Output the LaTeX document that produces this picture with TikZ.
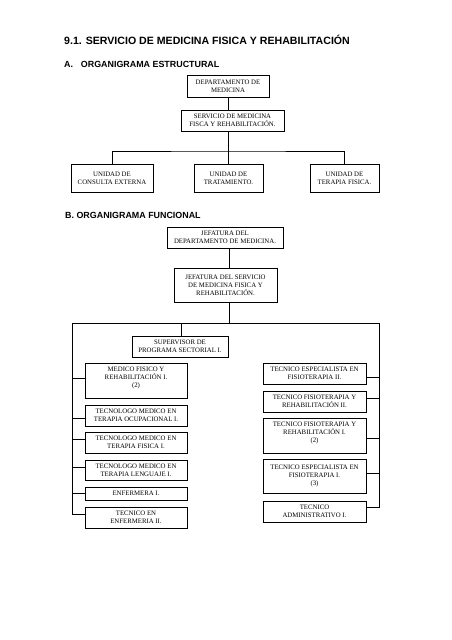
\documentclass[tikz,border=0pt]{standalone}
\usepackage{fontspec}
\setmainfont{Liberation Serif}
\newfontfamily\hfont{Liberation Sans}
\usetikzlibrary{shadows}
\begin{document}
\begin{tikzpicture}[x=1pt,y=-1pt,
  box/.style={draw=black, fill=white, line width=0.7pt, inner sep=0pt, align=center,
    font=\fontsize{6.8}{8}\selectfont,
    drop shadow={shadow xshift=0.9pt, shadow yshift=-0.9pt, fill=black!35, opacity=1}},
  conn/.style={draw=black, line width=0.8pt},
  head/.style={anchor=base west, inner sep=0pt, font=\hfont\bfseries\fontsize{8.9}{10}\selectfont},
  title/.style={anchor=base west, inner sep=0pt, font=\hfont\bfseries\fontsize{10.6}{12}\selectfont}]
\useasboundingbox[fill=white] (0,0) rectangle (452,640);

\node[title] (t) at (64,44) {9.1. SERVICIO DE MEDICINA FISICA Y REHABILITACIÓN};
\node[head] (ha) at (64,67) {A.\hspace{0.6em} ORGANIGRAMA ESTRUCTURAL};
\node[head] (hb) at (65,218) {B. ORGANIGRAMA FUNCIONAL};

% ---- A ----
\node[box, minimum width=82, minimum height=22] (dep) at (228,86) {DEPARTAMENTO DE\\MEDICINA};
\node[box, minimum width=103, minimum height=21] (serv) at (232.5,120.5) {SERVICIO DE MEDICINA\\FISCA Y REHABILITACIÓN.};
\node[box, minimum width=82, minimum height=28] (u1) at (112,178) {UNIDAD DE\\CONSULTA EXTERNA};
\node[box, minimum width=69, minimum height=28] (u2) at (228.5,178) {UNIDAD DE\\TRATAMIENTO.};
\node[box, minimum width=69, minimum height=28] (u3) at (344.5,178) {UNIDAD DE\\TERAPIA FISICA.};
\coordinate (ja) at (228.5,151);
\draw[conn] (dep.south -| ja) -- (serv.north -| ja);
\draw[conn] (serv.south -| ja) -- (ja);
\draw[conn] (u1.north) |- (ja) -| (u3.north);
\draw[conn] (ja) -- (u2.north);

% ---- B ----
\node[box, minimum width=116, minimum height=21] (jd) at (225,237.5) {JEFATURA DEL\\DEPARTAMENTO DE MEDICINA.};
\node[box, minimum width=103, minimum height=34] (js) at (225.5,285) {JEFATURA DEL SERVICIO\\DE MEDICINA FISICA Y\\REHABILITACIÓN.};
\coordinate (jb) at (229,323);
\coordinate (L) at (72,323);
\coordinate (R) at (379,323);
\draw[conn] (jd.south -| jb) -- (js.north -| jb);
\draw[conn] (js.south -| jb) -- (jb);
\draw[conn] (L) -- (R);

\node[box, minimum width=96, minimum height=21] (sup) at (180,346.5) {SUPERVISOR DE\\PROGRAMA SECTORIAL I.};
\draw[conn] (sup.north -| 181,0) -- (L -| 181,0);

% left column
\node[box, minimum width=102, minimum height=35] (mf) at (136,380.5) {MEDICO FISICO Y\\REHABILITACIÓN I.\\(2)\\[-2pt]\mbox{}};
\node[box, minimum width=102, minimum height=21] (to) at (136,415.5) {TECNOLOGO MEDICO EN\\TERAPIA OCUPACIONAL I.};
\node[box, minimum width=102, minimum height=21] (tf) at (136,442.5) {TECNOLOGO MEDICO EN\\TERAPIA FISICA I.};
\node[box, minimum width=102, minimum height=20] (tl) at (136,470) {TECNOLOGO MEDICO EN\\TERAPIA LENGUAJE I.};
\node[box, minimum width=102, minimum height=13] (en) at (136,493.5) {ENFERMERA I.};
\node[box, minimum width=102, minimum height=21] (te) at (136,517.5) {TECNICO EN\\ENFERMERIA II.};
\coordinate (Lb) at (72,514);
\draw[conn] (L) -- (Lb) -- (te.west |- Lb);
\draw[conn] (L |- 0,378) -- (mf.west |- 0,378);
\draw[conn] (L |- 0,418) -- (to.west |- 0,418);
\draw[conn] (L |- 0,439) -- (tf.west |- 0,439);
\draw[conn] (L |- 0,467) -- (tl.west |- 0,467);
\draw[conn] (L |- 0,493) -- (en.west |- 0,493);

% right column
\node[box, minimum width=103, minimum height=21] (e2) at (314.5,373.5) {TECNICO ESPECIALISTA EN\\FISIOTERAPIA II.};
\node[box, minimum width=103, minimum height=21] (f2) at (314.5,401.5) {TECNICO FISIOTERAPIA Y\\REHABILITACIÓN II.};
\node[box, minimum width=103, minimum height=35] (f1) at (314.5,435.5) {TECNICO FISIOTERAPIA Y\\REHABILITACIÓN I.\\(2)\\[-2pt]\mbox{}};
\node[box, minimum width=103, minimum height=34] (e1) at (314.5,476) {TECNICO ESPECIALISTA EN\\FISIOTERAPIA I.\\(3)};
\node[box, minimum width=103, minimum height=21] (ad) at (314.5,511.5) {TECNICO\\ADMINISTRATIVO I.};
\coordinate (Rb) at (379,507);
\draw[conn] (R) -- (Rb) -- (ad.east |- Rb);
\draw[conn] (R |- 0,377) -- (e2.east |- 0,377);
\draw[conn] (R |- 0,398) -- (f2.east |- 0,398);
\draw[conn] (R |- 0,438) -- (f1.east |- 0,438);
\draw[conn] (R |- 0,473) -- (e1.east |- 0,473);
\end{tikzpicture}
\end{document}
